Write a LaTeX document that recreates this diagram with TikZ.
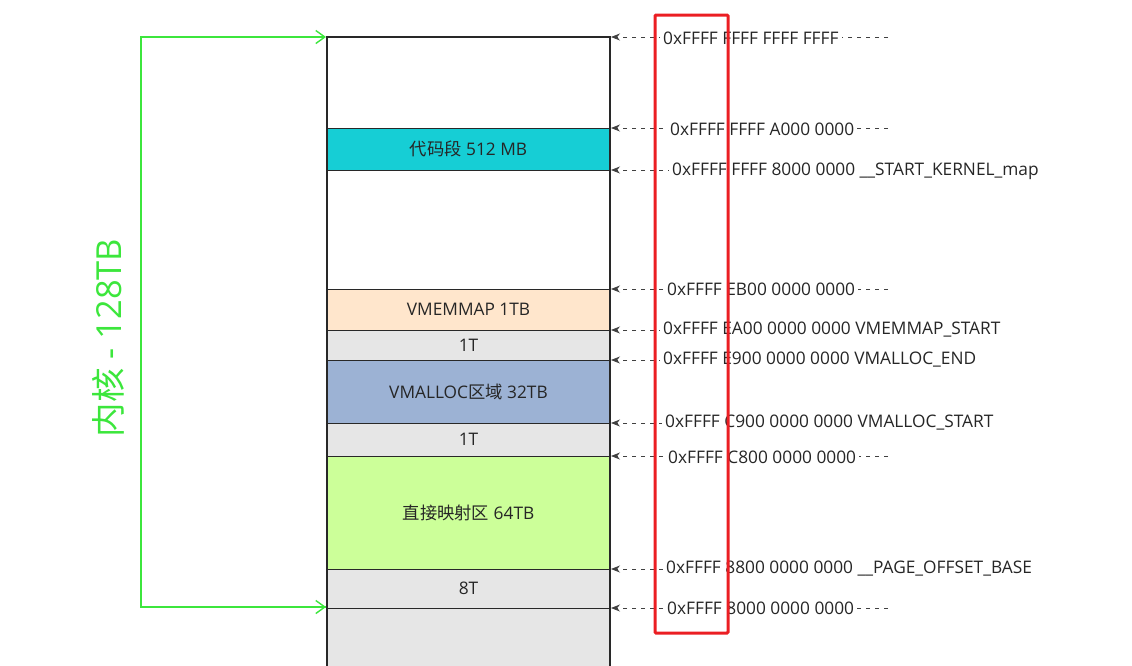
\documentclass[tikz,border=0pt]{standalone}
\usepackage{fontspec}
\setmainfont{Open Sans}
\newfontfamily\cjk{Noto Sans CJK SC}
\usetikzlibrary{arrows.meta}
\definecolor{codeC}{RGB}{22,206,213}
\definecolor{vmemC}{RGB}{255,230,204}
\definecolor{grayC}{RGB}{230,230,230}
\definecolor{vmallocC}{RGB}{156,178,212}
\definecolor{directC}{RGB}{204,255,153}
\definecolor{greenC}{RGB}{60,230,60}
\definecolor{redC}{RGB}{235,30,35}
\definecolor{lineC}{RGB}{40,40,40}
\tikzset{
  band/.style={draw=lineC, line width=1pt},
  bandlabel/.style={font=\fontsize{17.3}{20}\selectfont, text=black!85},
  addr/.style={anchor=west, fill=white, inner xsep=3pt, inner ysep=1pt, font=\fontsize{17.3}{20}\selectfont, text=black!85},
  ptr/.style={draw=black!75, line width=0.8pt, dash pattern=on 4pt off 5pt, -{Stealth[length=9pt,width=7pt]}},
  kern/.style={draw=greenC, line width=1.4pt, -{Straight Barb[length=9pt,width=13pt]}}
}
\begin{document}
\begin{tikzpicture}[x=1pt,y=-1pt]
\useasboundingbox (0,0) rectangle (1132,665);
% bands
\path[band, fill=white] (327,37) rectangle (610,128);
\path[band, fill=codeC] (327,128) rectangle (610,170) node[midway, bandlabel] (code) {{\cjk 代码段} 512 MB};
\path[band, fill=white] (327,170) rectangle (610,289);
\path[band, fill=vmemC] (327,289) rectangle (610,330) node[midway, bandlabel] (vmem) {VMEMMAP 1TB};
\path[band, fill=grayC] (327,330) rectangle (610,360) node[midway, bandlabel] (gapa) {1T};
\path[band, fill=vmallocC] (327,360) rectangle (610,423) node[midway, bandlabel] (vmalloc) {VMALLOC{\cjk 区域} 32TB};
\path[band, fill=grayC] (327,423) rectangle (610,456) node[midway, bandlabel] (gapb) {1T};
\path[band, fill=directC] (327,456) rectangle (610,569) node[midway, bandlabel] (direct) {{\cjk 直接映射区} 64TB};
\path[band, fill=grayC] (327,569) rectangle (610,608) node[midway, bandlabel] (gapc) {8T};
\path[fill=grayC] (327,608) rectangle (610,666);
\draw[lineC, line width=1pt] (327,608) -- (610,608);
\draw[lineC, line width=1.5pt] (327,666) -- (327,37) -- (610,37) -- (610,666);

% pointer arrows
\foreach \n/\y in {a/37,b/128,c/170,d/289,e/330,f/360,g/423,h/456,i/569,j/608}{
  \coordinate (s\n) at (888,\y);
  \coordinate (t\n) at (611,\y);
  \draw[ptr] (s\n) -- (t\n);
}
\node[addr] (la) at (660,38) {0xFFFF FFFF FFFF FFFF};
\node[addr] (lb) at (667,129) {0xFFFF FFFF A000 0000};
\node[addr] (lc) at (669,171) {0xFFFF FFFF 8000 0000 \_\_START\_KERNEL\_map};
\node[addr] (ld) at (664,289) {0xFFFF EB00 0000 0000};
\node[addr] (le) at (660,330) {0xFFFF EA00 0000 0000 VMEMMAP\_START};
\node[addr] (lf) at (660,360) {0xFFFF E900 0000 0000 VMALLOC\_END};
\node[addr] (lg) at (662,423) {0xFFFF C900 0000 0000 VMALLOC\_START};
\node[addr] (lh) at (665,457) {0xFFFF C800 0000 0000};
\node[addr] (li) at (663,569) {0xFFFF 8800 0000 0000 \_\_PAGE\_OFFSET\_BASE};
\node[addr] (lj) at (664,608) {0xFFFF 8000 0000 0000};

% kernel bracket
\coordinate (kt) at (326,37);
\coordinate (kb) at (326,607);
\coordinate (km) at (141,322);
\draw[kern] (kb) -| (km) |- (kt);
\draw[kern] (km) |- (kb);
\node[rotate=90, text=greenC, font=\fontsize{34.5}{40}\selectfont] (kern) at (108,338) {{\cjk 内核} - 128TB};

% red highlight
\draw[redC, line width=3pt, rounded corners=1pt] (655,15) rectangle (728,633);
\end{tikzpicture}
\end{document}
